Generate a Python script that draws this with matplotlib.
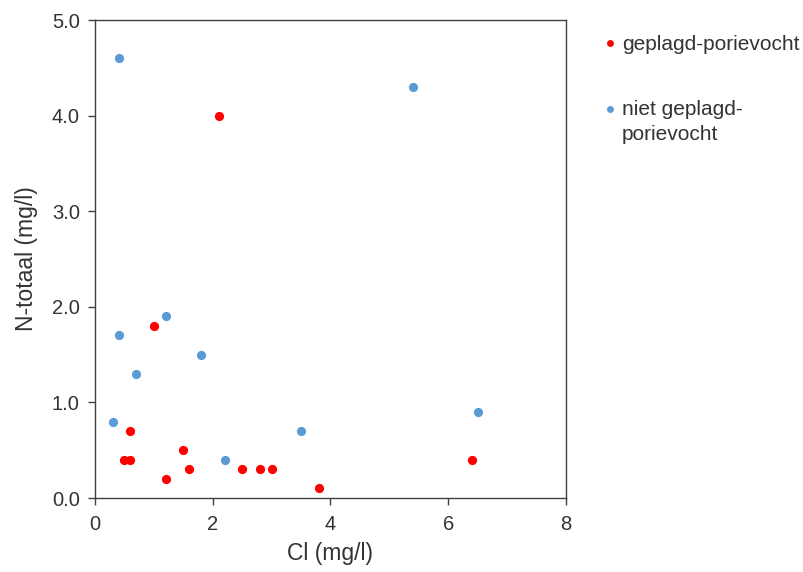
import matplotlib
matplotlib.use("Agg")
import matplotlib.pyplot as plt
from matplotlib.legend_handler import HandlerPathCollection

plt.rcParams['font.family'] = ['Liberation Sans', 'DejaVu Sans']

red_x = [2.1, 1.0, 0.6, 0.5, 0.6, 1.2, 1.5, 1.6, 2.5, 2.8, 3.0, 3.8, 6.4]
red_y = [4.0, 1.8, 0.7, 0.4, 0.4, 0.2, 0.5, 0.3, 0.3, 0.3, 0.3, 0.1, 0.4]
blue_x = [0.4, 5.4, 1.2, 0.4, 1.8, 0.7, 0.3, 2.2, 3.5, 6.5]
blue_y = [4.6, 4.3, 1.9, 1.7, 1.5, 1.3, 0.8, 0.4, 0.7, 0.9]
series_names = ["geplagd-porievocht", "niet geplagd-\nporievocht"]
x_ticks = [0, 2, 4, 6, 8]
y_ticks = [0.0, 1.0, 2.0, 3.0, 4.0, 5.0]

txt = '#333333'
fig = plt.figure(figsize=(8.04, 5.72), dpi=100)
ax = fig.add_axes([95/804, 1-498/572, (566-95)/804, (498-20)/572])

r = ax.scatter(red_x, red_y, s=44, color='#FF0000', label=series_names[0], zorder=3, linewidths=0)
b = ax.scatter(blue_x, blue_y, s=44, color='#5B9BD5', label=series_names[1], zorder=3, linewidths=0)

ax.set_xlim(0, 8)
ax.set_ylim(0, 5)
ax.set_xticks(x_ticks)
ax.set_yticks(y_ticks)
ax.set_yticklabels([f"{v:.1f}" for v in y_ticks])
ax.tick_params(direction='out', length=5, width=1, colors='#404040', labelsize=14.5,
               labelcolor=txt, pad=6)
ax.tick_params(axis='x', pad=7)
for s in ax.spines.values():
    s.set_color('#404040')
    s.set_linewidth(1.0)
ax.set_xlabel("Cl (mg/l)", fontsize=16.5, color=txt, labelpad=6)
ax.set_ylabel("N-totaal (mg/l)", fontsize=16.5, color=txt, labelpad=10)

leg = fig.legend(handles=[r, b], loc='upper left', bbox_to_anchor=(604/804, 1-35/572),
                 frameon=False, fontsize=15, markerscale=0.75, handletextpad=0.25,
                 labelspacing=2.2, handlelength=0.6, borderaxespad=0, borderpad=0,
                 handler_map={r: HandlerPathCollection(yoffsets=[0.45]),
                              b: HandlerPathCollection(yoffsets=[1.38])})
for t in leg.get_texts():
    t.set_color(txt)
    t.set_linespacing(1.4)

fig.savefig("out.png", dpi=100)
